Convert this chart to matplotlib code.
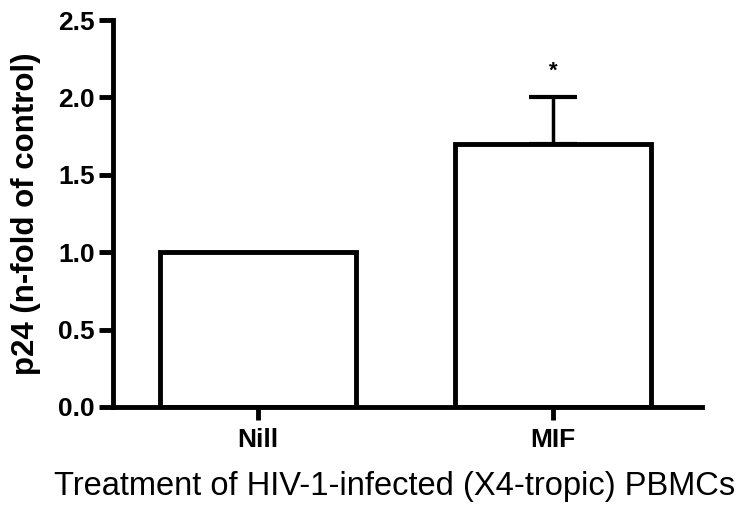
import matplotlib
matplotlib.use("Agg")
import matplotlib.pyplot as plt

categories = ["Nill", "MIF"]
values = [1.0, 1.70]
errors = [0.0, 0.30]
yticks = [0.0, 0.5, 1.0, 1.5, 2.0, 2.5]

plt.rcParams['font.family'] = ['Liberation Sans', 'DejaVu Sans']

fig = plt.figure(figsize=(7.40, 5.21), dpi=100)
ax = fig.add_axes([113/740, 1 - 407/521, (702-113)/740, (407-20)/521])

x = list(range(len(categories)))
ax.bar(x, values, width=0.664, color='white', edgecolor='black', linewidth=3.5, zorder=2)
for xi, v, e in zip(x, values, errors):
    if e > 0:
        ax.errorbar([xi], [v], yerr=[[0], [e]], fmt='none', ecolor='black',
                    elinewidth=2.5, capsize=17, capthick=3, zorder=1)
        ax.text(xi, v + e + 0.17, "*", ha='center', va='center', fontsize=16, fontweight='bold')

ax.set_xlim(-0.49, 1.505)
ax.set_ylim(0, 2.5)
ax.set_yticks(yticks)
ax.set_yticklabels([f"{t:.1f}" for t in yticks], fontsize=19, fontweight='bold')
ax.set_xticks(x)
ax.set_xticklabels(categories, fontsize=19, fontweight='bold')
ax.spines['top'].set_visible(False)
ax.spines['right'].set_visible(False)
ax.spines['left'].set_linewidth(3.5)
ax.spines['bottom'].set_linewidth(3.5)
ax.tick_params(axis='y', width=3.5, length=10, direction='out', pad=3)
ax.tick_params(axis='x', width=3.5, length=9, direction='out', pad=6)
ax.set_ylabel("p24 (n-fold of control)", fontsize=22.5, fontweight='bold')
ax.set_xlabel("Treatment of HIV-1-infected (X4-tropic) PBMCs", fontsize=23.5)
ax.yaxis.set_label_coords(-(113-26)/589, 0.5)
ax.xaxis.set_label_coords((395-113)/589, -(487-407)/387)
ax.xaxis.label.set_va('center')
ax.yaxis.label.set_va('center')

fig.savefig("out.png", dpi=100)
